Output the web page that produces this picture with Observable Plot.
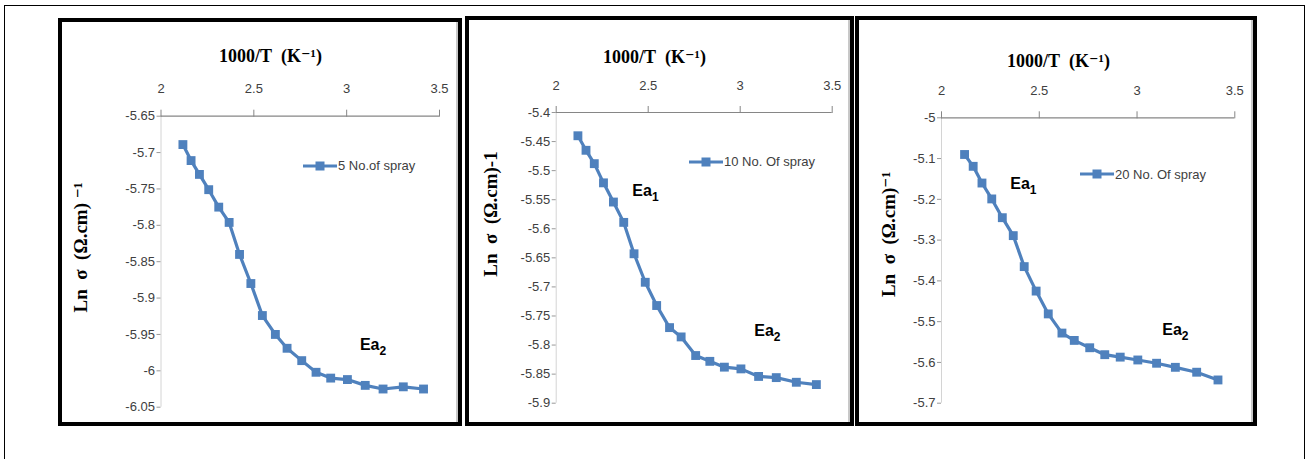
<!DOCTYPE html>
<html>
<head>
<meta charset="utf-8">
<script src="https://cdn.jsdelivr.net/npm/d3@7"></script>
<script src="https://cdn.jsdelivr.net/npm/@observablehq/plot@0.6"></script>
<style>
  body { margin: 0; background: #fff; }
  #root { position: relative; width: 1309px; height: 459px; overflow: hidden; background: #fff; }
  .frame { position: absolute; border: 1.5px solid #000; box-sizing: border-box; }
  .panel { position: absolute; border: 4px solid #000; box-sizing: border-box; background: #fff; box-shadow: inset -2px 0 0 #c8c8c8; }
  .panel svg { position: absolute; left: 0; top: 0; }
  .legend { position: absolute; display: flex; align-items: center; font-family: "Liberation Sans", Arial, sans-serif; font-size: 13px; color: #404040; white-space: nowrap; }
</style>
</head>
<body>
<div id="root">
  <div class="frame" style="left:4px; top:5px; width:1301px; height:480px;"></div>
</div>
<script>
// ---- data ----
const xValues = [2.118, 2.162, 2.207, 2.257, 2.311, 2.367, 2.423, 2.484, 2.546, 2.616,
                 2.679, 2.758, 2.835, 2.914, 3.004, 3.100, 3.196, 3.305, 3.414];
const spray5  = [-5.689, -5.711, -5.730, -5.751, -5.775, -5.796, -5.840, -5.880, -5.924, -5.950,
                 -5.969, -5.986, -6.002, -6.010, -6.012, -6.020, -6.025, -6.022, -6.025];
const spray10 = [-5.440, -5.465, -5.488, -5.521, -5.554, -5.589, -5.643, -5.692, -5.732, -5.770,
                 -5.786, -5.818, -5.828, -5.838, -5.841, -5.854, -5.856, -5.864, -5.868];
const spray20 = [-5.090, -5.119, -5.160, -5.199, -5.245, -5.289, -5.365, -5.425, -5.481, -5.528,
                 -5.546, -5.564, -5.581, -5.587, -5.594, -5.602, -5.612, -5.624, -5.643];
const xTicks = [2, 2.5, 3, 3.5];
const yTicks5  = [-5.65, -5.7, -5.75, -5.8, -5.85, -5.9, -5.95, -6, -6.05];
const yTicks10 = [-5.4, -5.45, -5.5, -5.55, -5.6, -5.65, -5.7, -5.75, -5.8, -5.85, -5.9];
const yTicks20 = [-5, -5.1, -5.2, -5.3, -5.4, -5.5, -5.6, -5.7];
const legendLabels = ["5 No.of spray", "10 No. Of spray", "20 No. Of spray"];
const xTitle = "1000/T\u00a0\u00a0(K\u207B\u00B9)";
const yTitles = ["Ln\u00a0\u00a0σ\u00a0\u00a0(Ω.cm)\u00a0\u207B\u00B9",
                 "Ln\u00a0\u00a0σ\u00a0\u00a0(Ω.cm)-1",
                 "Ln\u00a0\u00a0σ\u00a0\u00a0(Ω.cm)\u207B\u00B9"];

const BLUE = "#4F81BD";
const root = document.getElementById("root");

const panels = [
  { left: 58, top: 18, w: 404, h: 408, mL: 98.5, mR: 19, mT: 93.7, mB: 15.3,
    values: spray5, yTicks: yTicks5, legend: legendLabels[0], yTitle: yTitles[0],
    titlePos: [208, 34], yTitlePos: [18, 225], legendPos: [303, 165.7],
    ea: [{t: "Ea2", x: 3.142, y: -5.965}] },
  { left: 465, top: 16, w: 389, h: 410, mL: 86.7, mR: 18.3, mT: 92, mB: 19.3,
    values: spray10, yTicks: yTicks10, legend: legendLabels[1], yTitle: yTitles[1],
    titlePos: [185, 36.7], yTitlePos: [21, 193.5], legendPos: [689, 161.7],
    ea: [{t: "Ea1", x: 2.485, y: -5.534}, {t: "Ea2", x: 3.148, y: -5.775}] },
  { left: 855, top: 16, w: 402, h: 410, mL: 82, mR: 18.7, mT: 97.3, mB: 19.3,
    values: spray20, yTicks: yTicks20, legend: legendLabels[2], yTitle: yTitles[2],
    titlePos: [199, 40.7], yTitlePos: [29, 214], legendPos: [1080, 174],
    ea: [{t: "Ea1", x: 2.419, y: -5.161}, {t: "Ea2", x: 3.196, y: -5.519}] }
];

for (const p of panels) {
  const div = document.createElement("div");
  div.className = "panel";
  Object.assign(div.style, {left: p.left + "px", top: p.top + "px", width: p.w + "px", height: p.h + "px"});
  root.appendChild(div);

  const W = p.w - 8, H = p.h - 8;
  const data = xValues.map((x, i) => ({x, y: p.values[i]}));
  const yMin = d3.min(p.yTicks), yMax = d3.max(p.yTicks);

  const chart = Plot.plot({
    width: W, height: H,
    marginLeft: p.mL, marginRight: p.mR, marginTop: p.mT, marginBottom: p.mB,
    x: {domain: [xTicks[0], xTicks[xTicks.length - 1]]},
    y: {domain: [yMin, yMax]},
    style: {fontFamily: "'Liberation Sans', Arial, sans-serif", fontSize: "13px", color: "#404040", background: "transparent", overflow: "visible"},
    marks: [
      Plot.ruleX([xTicks[0]], {stroke: "#d4d4d4", strokeWidth: 1}),
      Plot.ruleY([yMax], {stroke: "#868686", strokeWidth: 1.2}),
      Plot.axisX({anchor: "top", ticks: xTicks, tickFormat: d => String(d), tickSize: 7, tickPadding: 16, stroke: "#868686", label: null}),
      Plot.axisY({anchor: "left", ticks: p.yTicks, tickFormat: d => String(d), tickSize: 4, tickPadding: 2, stroke: "#999", label: null}),
      Plot.line(data, {x: "x", y: "y", stroke: BLUE, strokeWidth: 3.2}),
      Plot.dot(data, {x: "x", y: "y", symbol: "square", r: 5, fill: BLUE, stroke: null}),
      Plot.text(p.ea, {x: "x", y: "y", text: "t", fontFamily: "'Liberation Sans', 'DejaVu Sans', sans-serif", fontWeight: "bold", fontSize: 16, fill: "#000", className: "ea"}),
      Plot.text([xTitle], {text: d => d, frameAnchor: "top-left", dx: p.titlePos[0] - p.mL, dy: p.titlePos[1] - p.mT,
        fontFamily: "'Liberation Serif', 'DejaVu Serif', serif", fontWeight: "bold", fontSize: 18, fill: "#000", textAnchor: "middle", lineAnchor: "middle"}),
      Plot.text([p.yTitle], {text: d => d, frameAnchor: "top-left", dx: p.yTitlePos[0] - p.mL, dy: p.yTitlePos[1] - p.mT, rotate: -90,
        fontFamily: "'Liberation Serif', 'DejaVu Serif', serif", fontWeight: "bold", fontSize: 19, fill: "#000", textAnchor: "middle", lineAnchor: "middle"})
    ]
  });
  // turn the trailing digit of "Ea1"/"Ea2" into a real subscript
  chart.querySelectorAll("text").forEach(t => {
    const m = /^Ea(\d)$/.exec(t.textContent);
    if (m) {
      t.textContent = "Ea";
      const s = document.createElementNS("http://www.w3.org/2000/svg", "tspan");
      s.setAttribute("dy", "5");
      s.setAttribute("font-size", "12");
      s.textContent = m[1];
      t.appendChild(s);
    }
  });
  div.appendChild(chart);

  // legend (placed as an overlay)
  const lg = document.createElement("div");
  lg.className = "legend";
  lg.style.left = p.legendPos[0] + "px";
  lg.style.top = (p.legendPos[1] - 8) + "px";
  lg.style.height = "16px";
  lg.innerHTML = `<svg width="34" height="16" style="display:block"><line x1="0" x2="34" y1="8" y2="8" stroke="${BLUE}" stroke-width="3"/><rect x="12.5" y="3.5" width="9" height="9" fill="${BLUE}"/></svg><span style="margin-left:1px">${p.legend}</span>`;
  root.appendChild(lg);
}
</script>
</body>
</html>
